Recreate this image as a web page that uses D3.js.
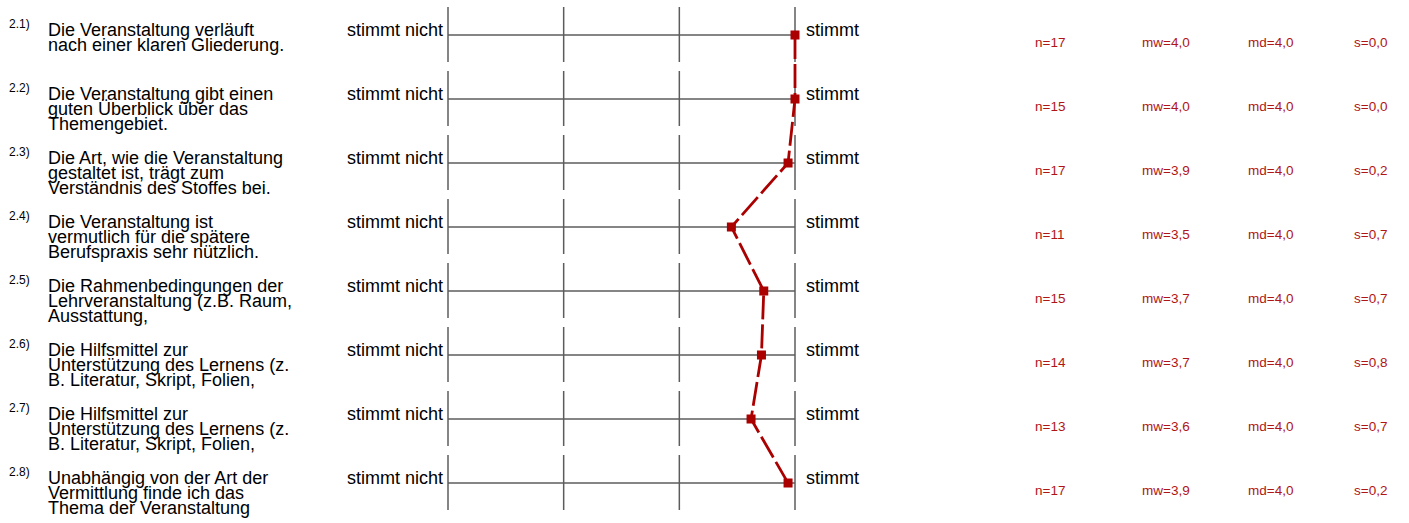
<!DOCTYPE html>
<html>
<head>
<meta charset="utf-8">
<script src="https://cdn.jsdelivr.net/npm/d3@7"></script>
<style>
    body { margin: 0; background: #fff; }
    text { font-family: "Liberation Sans", Arial, sans-serif; }
</style>
</head>
<body>
<script>
//profile line chart for the course evaluation

(function(){

//item numbers shown as small superscripts
var itemNumbers = ["2.1)", "2.2)", "2.3)", "2.4)", "2.5)", "2.6)", "2.7)", "2.8)"];

//question text, already broken into lines like the original
var itemLabels = [
    ["Die Veranstaltung verläuft", "nach einer klaren Gliederung."],
    ["Die Veranstaltung gibt einen", "guten Überblick über das", "Themengebiet."],
    ["Die Art, wie die Veranstaltung", "gestaltet ist, trägt zum", "Verständnis des Stoffes bei."],
    ["Die Veranstaltung ist", "vermutlich für die spätere", "Berufspraxis sehr nützlich."],
    ["Die Rahmenbedingungen der", "Lehrveranstaltung (z.B. Raum,", "Ausstattung,"],
    ["Die Hilfsmittel zur", "Unterstützung des Lernens (z.", "B. Literatur, Skript, Folien,"],
    ["Die Hilfsmittel zur", "Unterstützung des Lernens (z.", "B. Literatur, Skript, Folien,"],
    ["Unabhängig von der Art der", "Vermittlung finde ich das", "Thema der Veranstaltung"]
];

//scale end labels
var leftPole = "stimmt nicht";
var rightPole = "stimmt";

//mean values (marker positions) and the printed stats
var means = [4.0, 4.0, 3.94, 3.45, 3.73, 3.71, 3.62, 3.94];
var nValues = ["17", "15", "17", "11", "15", "14", "13", "17"];
var mwValues = ["4,0", "4,0", "3,9", "3,5", "3,7", "3,7", "3,6", "3,9"];
var mdValues = ["4,0", "4,0", "4,0", "4,0", "4,0", "4,0", "4,0", "4,0"];
var sValues = ["0,0", "0,0", "0,2", "0,7", "0,7", "0,8", "0,7", "0,2"];

//scale steps (1 = stimmt nicht ... 4 = stimmt)
var steps = [1, 2, 3, 4];

var width = 1409,
    height = 523;

var red = "#aa0000",
    statRed = "#b01515",
    grey = "#5c5c5c";

var svg = d3.select("body")
    .append("svg")
    .attr("width", width)
    .attr("height", height);

//horizontal scale for the answer steps
var x = d3.scaleLinear()
    .domain([1, 4])
    .range([448, 795]);

//one band per item
var y = d3.scalePoint()
    .domain(d3.range(itemLabels.length))
    .range([35, 483]);

var rows = svg.selectAll(".row")
    .data(itemLabels)
    .enter()
    .append("g")
    .attr("class", "row")
    .attr("transform", function(d, i){ return "translate(0," + y(i) + ")"; });

//item number
rows.append("text")
    .attr("x", 9)
    .attr("y", -7.5)
    .attr("font-size", 12)
    .attr("fill", "#000")
    .text(function(d, i){ return itemNumbers[i]; });

//question lines
rows.append("text")
    .attr("x", 48)
    .attr("y", 0.5)
    .attr("font-size", 18)
    .attr("fill", "#000")
    .selectAll("tspan")
    .data(function(d){ return d; })
    .enter()
    .append("tspan")
    .attr("x", 48)
    .attr("dy", function(d, j){ return j == 0 ? 0 : 15.3; })
    .text(function(d){ return d; });

//pole labels
rows.append("text")
    .attr("x", 443)
    .attr("y", 0.5)
    .attr("text-anchor", "end")
    .attr("font-size", 18)
    .attr("fill", "#000")
    .text(leftPole);

rows.append("text")
    .attr("x", 806)
    .attr("y", 0.5)
    .attr("font-size", 18)
    .attr("fill", "#000")
    .text(rightPole);

//axis line
rows.append("line")
    .attr("x1", x(1))
    .attr("x2", x(4))
    .attr("y1", 0)
    .attr("y2", 0)
    .attr("stroke", grey)
    .attr("stroke-width", 1.4);

//step ticks
rows.selectAll(".tick")
    .data(steps)
    .enter()
    .append("line")
    .attr("class", "tick")
    .attr("x1", function(d){ return x(d); })
    .attr("x2", function(d){ return x(d); })
    .attr("y1", -28)
    .attr("y2", 27)
    .attr("stroke", grey)
    .attr("stroke-width", 1.5);

//stats columns
var statCols = [
    {x: 1035, prefix: "n=", vals: nValues},
    {x: 1142, prefix: "mw=", vals: mwValues},
    {x: 1248, prefix: "md=", vals: mdValues},
    {x: 1354, prefix: "s=", vals: sValues}
];

statCols.forEach(function(col){
    rows.append("text")
        .attr("x", col.x)
        .attr("y", 11.5)
        .attr("font-size", 13.5)
        .attr("fill", statRed)
        .text(function(d, i){ return col.prefix + col.vals[i]; });
});

//profile line through the means
var line = d3.line()
    .x(function(d){ return x(d); })
    .y(function(d, i){ return y(i); });

svg.append("path")
    .datum(means)
    .attr("d", line)
    .attr("fill", "none")
    .attr("stroke", red)
    .attr("stroke-width", 2.8)
    .attr("stroke-dasharray", "24,5");

//markers
svg.selectAll(".marker")
    .data(means)
    .enter()
    .append("rect")
    .attr("class", "marker")
    .attr("x", function(d){ return x(d) - 4.5; })
    .attr("y", function(d, i){ return y(i) - 4.5; })
    .attr("width", 9)
    .attr("height", 9)
    .attr("fill", red);

})();
</script>
</body>
</html>
